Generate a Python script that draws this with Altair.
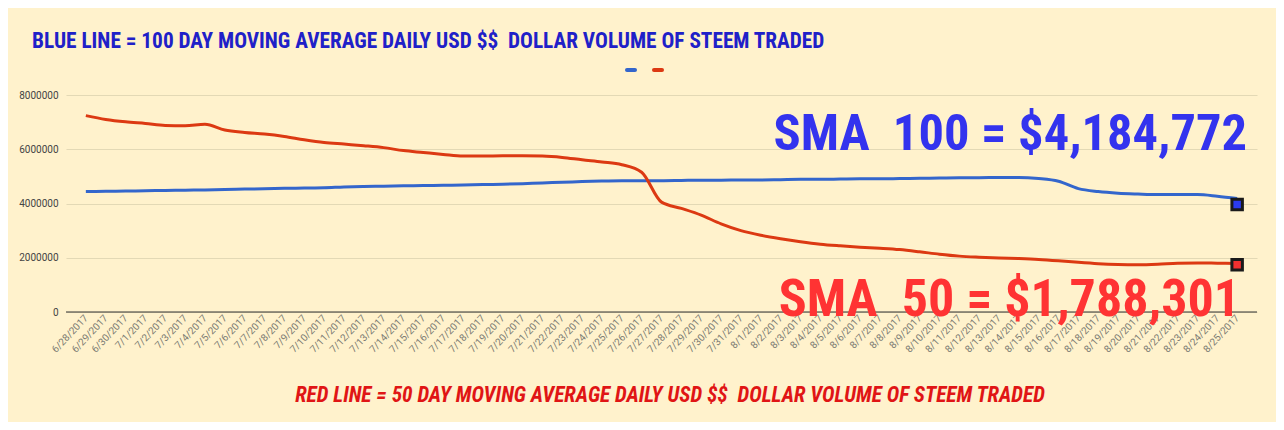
import altair as alt
import pandas as pd

dates = ["6/28/2017", "6/29/2017", "6/30/2017", "7/1/2017", "7/2/2017", "7/3/2017", "7/4/2017",
         "7/5/2017", "7/6/2017", "7/7/2017", "7/8/2017", "7/9/2017", "7/10/2017", "7/11/2017",
         "7/12/2017", "7/13/2017", "7/14/2017", "7/15/2017", "7/16/2017", "7/17/2017", "7/18/2017",
         "7/19/2017", "7/20/2017", "7/21/2017", "7/22/2017", "7/23/2017", "7/24/2017", "7/25/2017",
         "7/26/2017", "7/27/2017", "7/28/2017", "7/29/2017", "7/30/2017", "7/31/2017", "8/1/2017",
         "8/2/2017", "8/3/2017", "8/4/2017", "8/5/2017", "8/6/2017", "8/7/2017", "8/8/2017",
         "8/9/2017", "8/10/2017", "8/11/2017", "8/12/2017", "8/13/2017", "8/14/2017", "8/15/2017",
         "8/16/2017", "8/17/2017", "8/18/2017", "8/19/2017", "8/20/2017", "8/21/2017", "8/22/2017",
         "8/23/2017", "8/24/2017", "8/25/2017"]

sma100 = [4.44, 4.45, 4.46, 4.47, 4.48, 4.49, 4.50, 4.52, 4.53, 4.54, 4.56, 4.57, 4.58, 4.61,
          4.63, 4.64, 4.65, 4.66, 4.67, 4.68, 4.70, 4.71, 4.73, 4.76, 4.78, 4.81, 4.83, 4.84,
          4.84, 4.84, 4.85, 4.86, 4.86, 4.87, 4.87, 4.88, 4.89, 4.89, 4.90, 4.91, 4.91, 4.92,
          4.93, 4.94, 4.95, 4.95, 4.96, 4.96, 4.92, 4.82, 4.55, 4.44, 4.38, 4.35, 4.33, 4.33,
          4.33, 4.27, 4.184772]

sma50 = [7.24, 7.10, 7.01, 6.95, 6.88, 6.87, 6.92, 6.71, 6.62, 6.56, 6.47, 6.35, 6.25, 6.19,
         6.13, 6.06, 5.95, 5.88, 5.81, 5.75, 5.75, 5.76, 5.76, 5.75, 5.70, 5.61, 5.53, 5.43,
         5.15, 4.05, 3.82, 3.57, 3.25, 3.00, 2.83, 2.70, 2.59, 2.50, 2.44, 2.39, 2.35, 2.30,
         2.22, 2.13, 2.06, 2.02, 1.99, 1.97, 1.94, 1.89, 1.83, 1.78, 1.75, 1.74, 1.76, 1.80,
         1.81, 1.80, 1.788301]

series_names = ["SMA 100", "SMA 50"]
series_colors = ["#3366CC", "#DC3912"]
marker_dates = ["8/25/2017", "8/25/2017"]
marker_values = [3.96, 1.74]
marker_fills = ["#2B3BF0", "#F03030"]
y_ticks = [0, 2000000, 4000000, 6000000, 8000000]

NB = "\u00a0"
top_title = "BLUE LINE = 100 DAY MOVING AVERAGE DAILY USD $$" + NB + " DOLLAR VOLUME OF STEEM TRADED"
bottom_title = "RED LINE = 50 DAY MOVING AVERAGE DAILY USD $$" + NB + " DOLLAR VOLUME OF STEEM TRADED"
big100_text = "SMA" + NB + " 100 = $4,184,772"
big50_text = "SMA" + NB + " 50 = $1,788,301"

rows = []
for name, vals in zip(series_names, [sma100, sma50]):
    for d, v in zip(dates, vals):
        rows.append({"date": d, "value": v * 1e6, "series": name})
df = pd.DataFrame(rows)
mk = pd.DataFrame({"date": marker_dates, "value": [v * 1e6 for v in marker_values],
                   "series": series_names, "fill": marker_fills})

xenc = alt.X("date:O", sort=dates, scale=alt.Scale(type="point", padding=1.31),
             axis=alt.Axis(title=None, labelAngle=-47, labelFontSize=10, labelColor="#7a7a72",
                           labelFont="Roboto", ticks=False, domain=False, labelPadding=4,
                           labelOverlap=False, grid=False))
yenc = alt.Y("value:Q", scale=alt.Scale(domain=[0, 8000000], nice=False),
             axis=alt.Axis(title=None, values=y_ticks, format="d", labelFontSize=10,
                           labelColor="#444444", labelFont="Roboto", ticks=False, domain=False,
                           labelPadding=8, gridColor="#E3D9B5", gridWidth=1))

lines = alt.Chart(df).mark_line(strokeWidth=3, interpolate="monotone").encode(
    x=xenc, y=yenc,
    color=alt.Color("series:N", scale=alt.Scale(domain=series_names, range=series_colors),
                    legend=None),
)

zero = alt.Chart(pd.DataFrame({"v": [0]})).mark_rule(color="#333333", strokeWidth=1.2).encode(
    y="v:Q")

markers = alt.Chart(mk).mark_square(size=110, stroke="#1a1a1a", strokeWidth=3, opacity=1).encode(
    x=alt.X("date:O", sort=dates), y="value:Q", fill=alt.Fill("fill:N", scale=None))

cond = "Roboto Condensed, Liberation Sans Narrow, DejaVu Sans Condensed, sans-serif"

def txt(s, x, y, size, color, align="left", italic=False, font=cond):
    return alt.Chart(pd.DataFrame({"t": [s]})).mark_text(
        align=align, baseline="alphabetic", fontSize=size, fontWeight="bold",
        fontStyle="italic" if italic else "normal", color=color, font=font).encode(
        x=alt.value(x), y=alt.value(y), text="t:N")

title_top = txt(top_title, -34, -47, 21.3, "#2020C8")
title_bot = txt(bottom_title, 604, 307, 21.3, "#E01515", align="center", italic=True)
big100 = txt(big100_text, 1181, 55, 50.5, "#3333EE", align="right")
big50 = txt(big50_text, 1174, 221, 52, "#FF3333", align="right")

leg_blue = alt.Chart(pd.DataFrame({"a": [0]})).mark_rule(
    color=series_colors[0], strokeWidth=4, strokeCap="round").encode(
    x=alt.value(561), x2=alt.value(569), y=alt.value(-25))
leg_red = alt.Chart(pd.DataFrame({"a": [0]})).mark_rule(
    color=series_colors[1], strokeWidth=4, strokeCap="round").encode(
    x=alt.value(588), x2=alt.value(596), y=alt.value(-25))

chart = alt.layer(zero, lines, markers, title_top, title_bot, big100, big50, leg_blue, leg_red
).properties(
    width=1191, height=217, background="#FFF2CC", autosize="none",
    padding={"left": 58, "top": 87, "right": 19, "bottom": 110},
).configure_view(stroke=None)

chart.save("out.html", embed_options={"renderer": "svg", "actions": False})
